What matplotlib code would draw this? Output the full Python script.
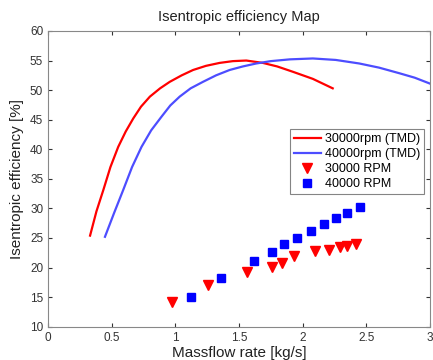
import matplotlib
matplotlib.use("Agg")
import matplotlib.pyplot as plt

# TMD curves
x_30k_tmd = [0.33, 0.38, 0.434, 0.49, 0.551, 0.61, 0.669, 0.73, 0.80, 0.88, 0.956, 1.05, 1.139,
             1.24, 1.348, 1.452, 1.557, 1.687, 1.80, 1.923, 2.08, 2.236]
y_30k_tmd = [25.4, 29.5, 33.1, 37.0, 40.4, 43.0, 45.2, 47.2, 48.9, 50.3, 51.4, 52.5, 53.4,
             54.1, 54.6, 54.9, 55.0, 54.6, 54.0, 53.1, 51.9, 50.3]
x_40k_tmd = [0.447, 0.52, 0.59, 0.66, 0.734, 0.81, 0.891, 0.96, 1.034, 1.12, 1.217, 1.32, 1.426,
             1.53, 1.635, 1.75, 1.90, 2.08, 2.26, 2.445, 2.60, 2.76, 2.88, 3.0]
y_40k_tmd = [25.2, 29.3, 33.1, 37.0, 40.4, 43.2, 45.5, 47.4, 48.9, 50.3, 51.4, 52.5, 53.4,
             54.0, 54.5, 54.9, 55.2, 55.35, 55.1, 54.5, 53.8, 52.85, 52.1, 51.1]

# measured points
x_30k = [0.976, 1.26, 1.565, 1.757, 1.84, 1.93, 2.10, 2.21, 2.29, 2.35, 2.42]
y_30k = [14.2, 17.0, 19.2, 20.1, 20.8, 21.9, 22.8, 23.0, 23.5, 23.6, 23.9]
x_40k = [1.126, 1.356, 1.618, 1.757, 1.856, 1.958, 2.063, 2.168, 2.26, 2.35, 2.45]
y_40k = [15.1, 18.2, 21.1, 22.7, 23.9, 25.0, 26.2, 27.3, 28.3, 29.3, 30.3]

plt.rcParams["font.family"] = ["Liberation Sans", "DejaVu Sans"]

fig = plt.figure(figsize=(4.33, 3.6), dpi=100)
ax = fig.add_axes([0.111, 0.0925, 0.882, 0.8215])

ax.plot(x_30k_tmd, y_30k_tmd, "-", color="#ff0000", lw=1.6, label="30000rpm (TMD)")
ax.plot(x_40k_tmd, y_40k_tmd, "-", color="#4d4dff", lw=1.6, label="40000rpm (TMD)")
ax.plot(x_30k, y_30k, "v", color="#ff0000", ms=7, ls="none", label="30000 RPM")
ax.plot(x_40k, y_40k, "s", color="#0000ff", ms=5.5, ls="none", label="40000 RPM")

ax.set_xlim(0, 3)
ax.set_ylim(10, 60)
ax.set_xticks([0, 0.5, 1, 1.5, 2, 2.5, 3])
ax.set_xticklabels(["0", "0.5", "1", "1.5", "2", "2.5", "3"])
ax.set_yticks(range(10, 61, 5))
ax.tick_params(direction="in", top=True, right=True, labelsize=8.5, colors="#333333",
               length=3)
for s in ax.spines.values():
    s.set_color("#888888")
    s.set_linewidth(0.8)

ax.set_title("Isentropic efficiency Map", fontsize=10.5, color="#222222", pad=7)
ax.set_xlabel("Massflow rate [kg/s]", fontsize=11, color="#222222", labelpad=2)
ax.set_ylabel("Isentropic efficiency [%]", fontsize=11, color="#222222", labelpad=4)

leg = ax.legend(loc="upper right", bbox_to_anchor=(0.984, 0.668), fontsize=9,
                frameon=True, fancybox=False, edgecolor="#666666",
                handlelength=2.2, handletextpad=0.3, borderpad=0.3, labelspacing=0.25,
                borderaxespad=0)
leg.get_frame().set_linewidth(0.8)

fig.savefig("out.png", dpi=100)
